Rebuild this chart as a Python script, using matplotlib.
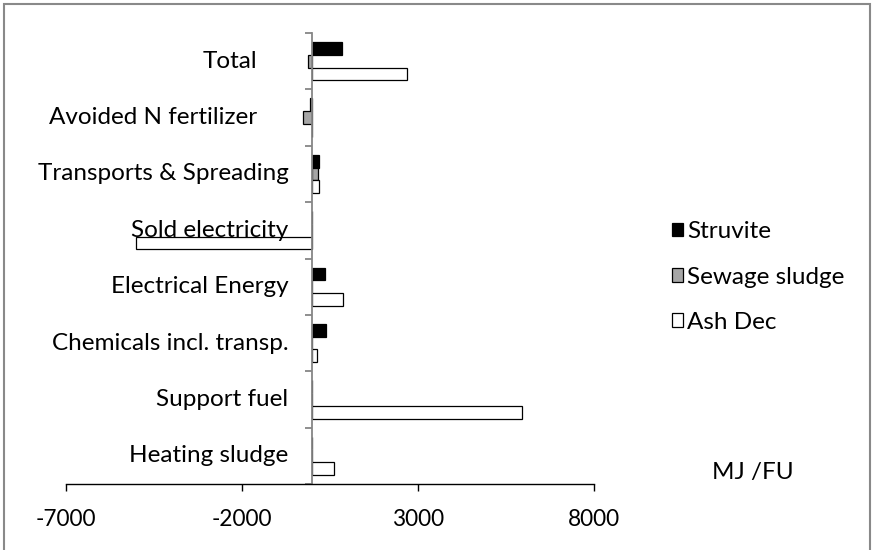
import numpy as np
import matplotlib.pyplot as plt
from matplotlib.patches import Patch, Rectangle

categories = ["Total", "Avoided N fertilizer", "Transports & Spreading", "Sold electricity",
              "Electrical Energy", "Chemicals incl. transp.", "Support fuel", "Heating sludge"]
struvite = [830, -60, 190, 0, 370, 390, 0, 0]
sewage_sludge = [-120, -270, 150, 0, 0, 0, 0, 0]
ash_dec = [2680, 0, 190, -5000, 870, 130, 5960, 600]
x_ticks = [-7000, -2000, 3000, 8000]

plt.rcParams['font.family'] = ['Lato', 'DejaVu Sans']
fs = 17.5

fig = plt.figure(figsize=(8.75, 5.5), dpi=100)
ax = fig.add_axes([66/875, 1 - 484/550, 528/875, 451/550])

y = np.arange(len(categories))
h = 0.226
ax.barh(y - h, struvite, height=h, color='black', edgecolor='black', linewidth=0.9, label='Struvite')
ax.barh(y, sewage_sludge, height=h, color='#a6a6a6', edgecolor='black', linewidth=0.9, label='Sewage sludge')
ax.barh(y + h, ash_dec, height=h, color='white', edgecolor='black', linewidth=0.9, label='Ash Dec')

ax.set_xlim(-7000, 8000)
ax.set_ylim(len(categories) - 0.5, -0.5)

# category axis sits at x = 0, grey, with ticks between groups
for s in ['top', 'right']:
    ax.spines[s].set_visible(False)
ax.spines['left'].set_position(('data', 0))
ax.spines['left'].set_color('#868686')
ax.spines['left'].set_linewidth(1.3)
ax.spines['bottom'].set_color('black')
ax.spines['bottom'].set_linewidth(1.0)

ax.set_yticks(np.arange(len(categories) + 1) - 0.5)
ax.set_yticklabels([])
ax.tick_params(axis='y', direction='out', length=5, color='#868686', width=1.3)

# category names, the first two sit further left
pads = [55, 55, 24, 24, 24, 24, 24, 24]
for i, name in enumerate(categories):
    ax.annotate(name, xy=(0, i), xycoords='data', xytext=(-pads[i] * 0.72, 0),
                textcoords='offset points', ha='right', va='center', fontsize=fs)

ax.set_xticks(x_ticks)
ax.set_xticklabels([str(v) for v in x_ticks], fontsize=16.3)
ax.tick_params(axis='x', direction='out', length=5, width=1.0, pad=13)

ax.legend(loc='center left', bbox_to_anchor=(672/875, 1 - 277/550), bbox_transform=fig.transFigure,
          frameon=False, fontsize=fs, handlelength=0.47, handleheight=0.47, handletextpad=0.15,
          labelspacing=1.0, borderpad=0, borderaxespad=0)

fig.text(712/875, 1 - 473/550, "MJ /FU", fontsize=fs, va='center', ha='left')

# chart frame
fig.patches.append(Rectangle((4/875, -0.1), 866/875, 1.1 - 3.5/550, transform=fig.transFigure,
                             fill=False, edgecolor='#898989', linewidth=1.5))

plt.savefig('out.png', dpi=100)
